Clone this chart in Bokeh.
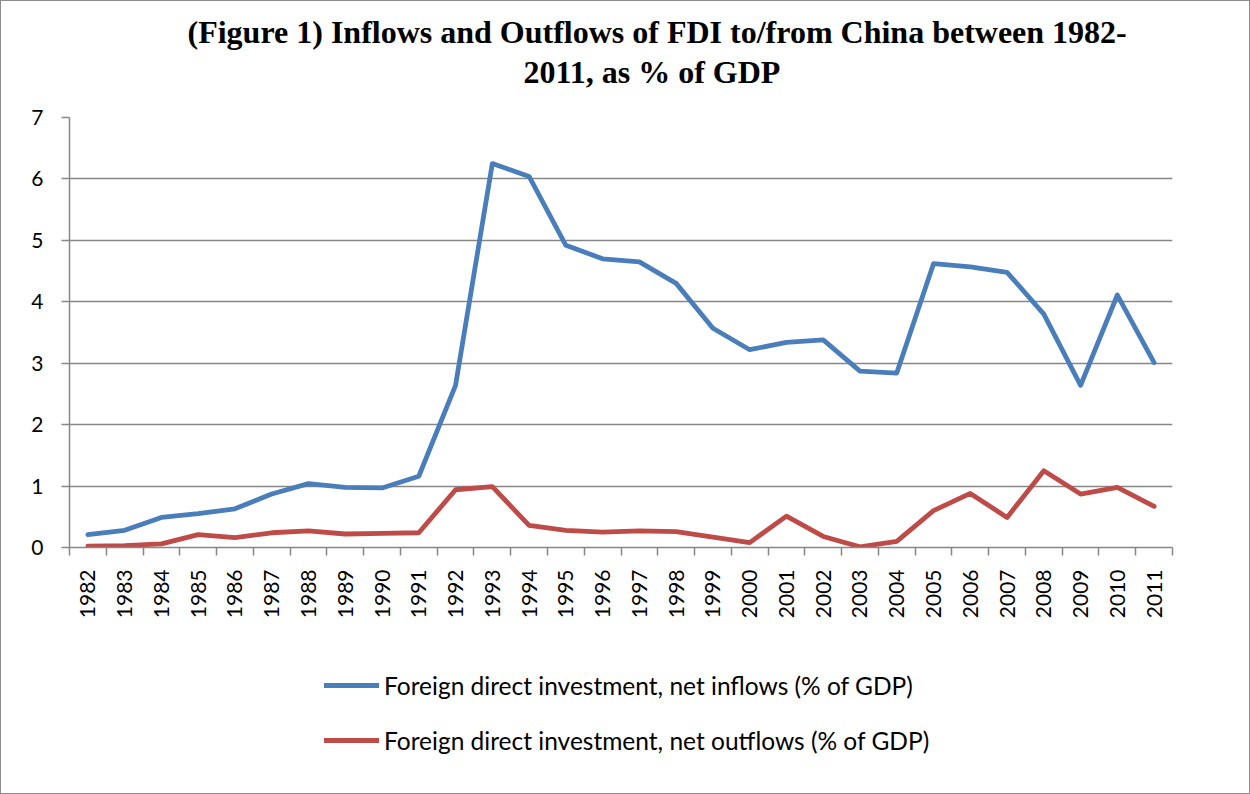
import math
from bokeh.plotting import figure
from bokeh.layouts import column
from bokeh.models import (Title, Legend, LegendItem, FixedTicker, Range1d,
                          ColumnDataSource)
from bokeh.embed import file_html
from bokeh.resources import INLINE

years = [str(y) for y in range(1982, 2012)]
inflows = [0.21, 0.28, 0.49, 0.55, 0.63, 0.87, 1.04, 0.98, 0.97, 1.16,
           2.64, 6.25, 6.04, 4.92, 4.70, 4.65, 4.30, 3.57, 3.22, 3.34,
           3.38, 2.87, 2.84, 4.62, 4.57, 4.48, 3.80, 2.64, 4.11, 3.01]
outflows = [0.02, 0.03, 0.06, 0.21, 0.16, 0.24, 0.27, 0.22, 0.23, 0.24,
            0.94, 0.99, 0.36, 0.28, 0.25, 0.27, 0.26, 0.17, 0.08, 0.51,
            0.18, 0.01, 0.10, 0.60, 0.88, 0.49, 1.25, 0.87, 0.98, 0.67]
y_ticks = [0, 1, 2, 3, 4, 5, 6, 7]
title_line1 = "(Figure 1) Inflows and Outflows of FDI to/from China between  1982-"
title_line2 = "2011, as % of GDP"
label_in = "Foreign direct investment, net inflows (% of GDP)"
label_out = "Foreign direct investment, net outflows (% of GDP)"

xpos = [i + 0.5 for i in range(len(years))]
src = ColumnDataSource(dict(x=xpos, inflows=inflows, outflows=outflows))

FONT = "Lato"
GRID = "#878787"
BLUE = "#4a7ebb"
RED = "#be4b48"
LW = 4.8

# ---- main chart -------------------------------------------------------
p = figure(frame_width=1103, frame_height=430, output_backend="svg",
           toolbar_location=None,
           x_range=Range1d(0, len(years)), y_range=Range1d(0, 7),
           min_border_left=68, min_border_right=77, min_border_top=116,
           min_border_bottom=80, title=None)
p.outline_line_color = None
p.background_fill_color = "white"

title_style = dict(align="left", vertical_align="bottom",
                   text_font="Liberation Serif", text_font_size="32px",
                   text_font_style="bold", text_color="black", standoff=0)
t2 = Title(text=title_line2, offset=454,
           padding=dict(left=0, right=0, top=0, bottom=28), **title_style)
t1 = Title(text=title_line1, offset=118,
           padding=dict(left=0, right=0, top=0, bottom=2), **title_style)
p.add_layout(t2, "above")
p.add_layout(t1, "above")

p.line("x", "inflows", source=src, line_color=BLUE, line_width=LW,
       line_join="round", line_cap="round")
p.line("x", "outflows", source=src, line_color=RED, line_width=LW,
       line_join="round", line_cap="round")

# x axis: labels at category centers, tick marks at category boundaries
p.xaxis.ticker = FixedTicker(ticks=xpos, minor_ticks=list(range(len(years) + 1)))
p.xaxis.major_label_overrides = {x: y for x, y in zip(xpos, years)}
p.xaxis.major_label_orientation = math.pi / 2
p.xaxis.major_tick_line_color = None
p.xaxis.major_tick_out = 0
p.xaxis.major_tick_in = 0
p.xaxis.minor_tick_out = 8
p.xaxis.minor_tick_in = 0
p.xaxis.minor_tick_line_color = GRID
p.xaxis.minor_tick_line_width = 1.5
p.xaxis.axis_line_color = GRID
p.xaxis.axis_line_width = 1.5
p.xaxis.major_label_standoff = 14
p.xaxis.major_label_text_font = FONT
p.xaxis.major_label_text_font_size = "21px"
p.xaxis.major_label_text_color = "black"

p.yaxis.ticker = FixedTicker(ticks=y_ticks)
p.yaxis.minor_tick_line_color = None
p.yaxis.major_tick_out = 8
p.yaxis.major_tick_in = 0
p.yaxis.major_tick_line_color = GRID
p.yaxis.major_tick_line_width = 1.5
p.yaxis.axis_line_color = GRID
p.yaxis.axis_line_width = 1.5
p.yaxis.major_label_standoff = 18
p.yaxis.major_label_text_font = FONT
p.yaxis.major_label_text_font_size = "21px"
p.yaxis.major_label_text_color = "black"

p.xgrid.grid_line_color = None
p.ygrid.ticker = FixedTicker(ticks=y_ticks)
p.ygrid.grid_line_color = GRID
p.ygrid.grid_line_width = 1.5

# ---- legend strip below the chart -----------------------------------------
# (series repeated here only as legend keys; their data lie outside this range)
leg = figure(width=1248, height=166, output_backend="svg", toolbar_location=None,
             x_range=Range1d(-20, -10), y_range=Range1d(0, 7),
             min_border=0, title=None)
leg.axis.visible = False
leg.grid.visible = False
leg.outline_line_color = None
k_in = leg.line("x", "inflows", source=src, line_color=BLUE, line_width=LW,
                line_cap="round")
k_out = leg.line("x", "outflows", source=src, line_color=RED, line_width=LW,
                 line_cap="round")
legend = Legend(items=[LegendItem(label=label_in, renderers=[k_in]),
                       LegendItem(label=label_out, renderers=[k_out])],
                location=(255, 38), orientation="vertical",
                glyph_width=55, glyph_height=30, label_height=30,
                spacing=25, label_standoff=5, padding=0, margin=0,
                border_line_color=None, background_fill_alpha=0,
                label_text_font=FONT, label_text_font_size="24.5px",
                label_text_color="black")
leg.add_layout(legend, "center")

layout = column(p, leg, spacing=0)
layout.styles = {"border": "1px solid #8c8c8c"}

open("out.html", "w").write(file_html(layout, INLINE))
